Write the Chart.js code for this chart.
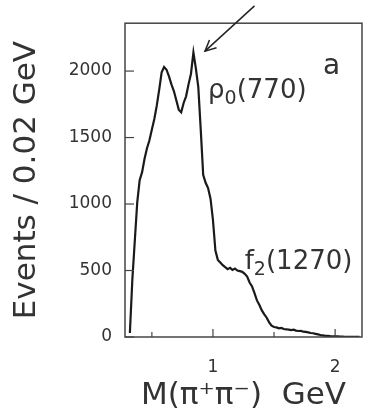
<!DOCTYPE html>
<html lang="en">
<head>
    <meta charset="UTF-8">
    <title>M(pi+ pi-) spectrum</title>
    <script src="https://cdn.jsdelivr.net/npm/chart.js"></script>
    <style>
        html, body { margin: 0; padding: 0; background: #fff; }
        #wrap { width: 368px; height: 419px; }
    </style>
</head>
<body>
    <div id="wrap"><canvas id="massChart" width="368" height="419"></canvas></div>

    <script>
        // bin centres (GeV) and events per 0.02 GeV
        var massGeV = [
            0.32, 0.34, 0.36, 0.38, 0.40, 0.42, 0.44, 0.46, 0.48, 0.50,
            0.52, 0.54, 0.56, 0.58, 0.60, 0.62, 0.64, 0.66, 0.68, 0.70,
            0.72, 0.74, 0.76, 0.78, 0.80, 0.82, 0.84, 0.86, 0.88, 0.90,
            0.92, 0.94, 0.96, 0.98, 1.00, 1.02, 1.04, 1.06, 1.08, 1.10,
            1.12, 1.14, 1.16, 1.18, 1.20, 1.22, 1.24, 1.26, 1.28, 1.30,
            1.32, 1.34, 1.36, 1.38, 1.40, 1.42, 1.44, 1.46, 1.48, 1.50,
            1.52, 1.54, 1.56, 1.58, 1.60, 1.62, 1.64, 1.66, 1.68, 1.70,
            1.72, 1.74, 1.76, 1.78, 1.80, 1.82, 1.84, 1.86, 1.88, 1.90,
            1.92, 1.94, 1.96, 1.98, 2.00, 2.02, 2.04, 2.06, 2.08, 2.10,
            2.12, 2.14, 2.16, 2.18, 2.20
        ];
        var events = [
            30, 430, 720, 1010, 1180, 1240, 1340, 1420, 1480, 1560,
            1640, 1740, 1860, 1990, 2030, 2010, 1960, 1900, 1850, 1780,
            1710, 1690, 1760, 1810, 1900, 1980, 2140, 2020, 1880, 1560,
            1220, 1160, 1120, 1040, 880, 650, 580, 560, 540, 525,
            510, 520, 505, 515, 500, 495, 490, 475, 455, 410,
            380, 330, 275, 240, 200, 170, 145, 110, 85, 75,
            72, 65, 68, 60, 58, 55, 52, 55, 48, 45,
            46, 40, 38, 35, 30, 28, 24, 20, 15, 12,
            9, 8, 6, 5, 4, 4, 3, 3, 2, 2,
            2, 1, 1, 1, 1
        ];
        var yTicks = [0, 500, 1000, 1500, 2000];
        var xTicks = [0.5, 1, 1.5, 2];
        var xLabels = { 1: '1', 2: '2' };

        // labels, anchored in data coordinates
        var notes = [
            { main: 'ρ', sub: '0', rest: '(770)', x: 0.96, y: 1850, size: 26 },
            { main: 'f', sub: '2', rest: '(1270)', x: 1.26, y: 560, size: 26 },
            { main: 'a', sub: '', rest: '', x: 1.9, y: 2030, size: 28 }
        ];
        var arrowFrom = { x: 1.34, y: 2490 };
        var arrowTo = { x: 0.935, y: 2150 };

        var FONT = '"DejaVu Sans", "Liberation Sans", Arial, sans-serif';
        var INK = '#333';

        var points = massGeV.map(function(m, i) { return { x: m, y: events[i] }; });

        var framePlugin = {
            id: 'frame',
            afterDraw: function(chart) {
                var c = chart.ctx, a = chart.chartArea;
                var xs = chart.scales.x, ys = chart.scales.y;
                c.save();
                c.strokeStyle = '#444';
                c.lineWidth = 1.5;
                c.strokeRect(a.left, a.top, a.right - a.left, a.bottom - a.top);

                // ticks pointing inwards
                c.lineWidth = 1.2;
                yTicks.forEach(function(v) {
                    var py = ys.getPixelForValue(v);
                    c.beginPath(); c.moveTo(a.left, py); c.lineTo(a.left + 9, py); c.stroke();
                });
                xTicks.forEach(function(v) {
                    var px = xs.getPixelForValue(v);
                    var len = xLabels[v] ? 8 : 5;
                    c.beginPath(); c.moveTo(px, a.bottom); c.lineTo(px, a.bottom - len); c.stroke();
                });

                // text labels with subscripts
                c.fillStyle = INK;
                c.textBaseline = 'middle';
                c.textAlign = 'left';
                notes.forEach(function(n) {
                    var px = xs.getPixelForValue(n.x), py = ys.getPixelForValue(n.y);
                    c.font = n.size + 'px ' + FONT;
                    c.fillText(n.main, px, py);
                    px += c.measureText(n.main).width;
                    if (n.sub) {
                        c.font = Math.round(n.size * 0.72) + 'px ' + FONT;
                        c.fillText(n.sub, px, py + n.size * 0.3);
                        px += c.measureText(n.sub).width;
                    }
                    if (n.rest) {
                        c.font = n.size + 'px ' + FONT;
                        c.fillText(n.rest, px, py);
                    }
                });

                // arrow towards the rho peak
                var x0 = xs.getPixelForValue(arrowFrom.x), y0 = ys.getPixelForValue(arrowFrom.y);
                var x1 = xs.getPixelForValue(arrowTo.x), y1 = ys.getPixelForValue(arrowTo.y);
                var ang = Math.atan2(y1 - y0, x1 - x0);
                c.strokeStyle = '#222';
                c.lineWidth = 1.5;
                c.beginPath(); c.moveTo(x0, y0); c.lineTo(x1, y1); c.stroke();
                c.beginPath();
                c.moveTo(x1 - 12 * Math.cos(ang - 0.45), y1 - 12 * Math.sin(ang - 0.45));
                c.lineTo(x1, y1);
                c.lineTo(x1 - 12 * Math.cos(ang + 0.45), y1 - 12 * Math.sin(ang + 0.45));
                c.stroke();
                c.restore();
            }
        };

        var ctx = document.getElementById('massChart').getContext('2d');
        var massChart = new Chart(ctx, {
            type: 'line',
            data: {
                datasets: [{
                    label: 'Events',
                    data: points,
                    borderColor: '#1a1a1a',
                    borderWidth: 2.2,
                    pointRadius: 0,
                    tension: 0,
                    fill: false
                }]
            },
            options: {
                responsive: false,
                animation: false,
                layout: { padding: { top: 22, right: 6, left: 0, bottom: 0 } },
                plugins: {
                    legend: { display: false },
                    tooltip: { enabled: false }
                },
                scales: {
                    x: {
                        type: 'linear',
                        min: 0.28,
                        max: 2.22,
                        grid: { display: false, drawTicks: false },
                        border: { display: false },
                        afterBuildTicks: function(s) { s.ticks = xTicks.map(function(v) { return { value: v }; }); },
                        afterFit: function(s) { s.height = 82; },
                        ticks: {
                            autoSkip: false,
                            maxRotation: 0,
                            padding: 20,
                            color: INK,
                            font: { family: FONT, size: 17 },
                            callback: function(v) { return xLabels[v] || ''; }
                        },
                        title: {
                            display: true,
                            text: 'M(π⁺π⁻)  GeV',
                            color: INK,
                            font: { family: FONT, size: 31 },
                            padding: { top: 0, bottom: 4 }
                        }
                    },
                    y: {
                        min: 0,
                        max: 2360,
                        grid: { display: false, drawTicks: false },
                        border: { display: false },
                        afterBuildTicks: function(s) { s.ticks = yTicks.map(function(v) { return { value: v }; }); },
                        afterFit: function(s) { s.width = 125; },
                        ticks: {
                            padding: 13,
                            color: INK,
                            font: { family: FONT, size: 17 },
                            callback: function(v) { return String(v); }
                        },
                        title: {
                            display: true,
                            text: 'Events / 0.02 GeV',
                            color: INK,
                            font: { family: FONT, size: 31 },
                            padding: { top: 8, bottom: 0 }
                        }
                    }
                }
            },
            plugins: [framePlugin]
        });
    </script>
</body>
</html>
